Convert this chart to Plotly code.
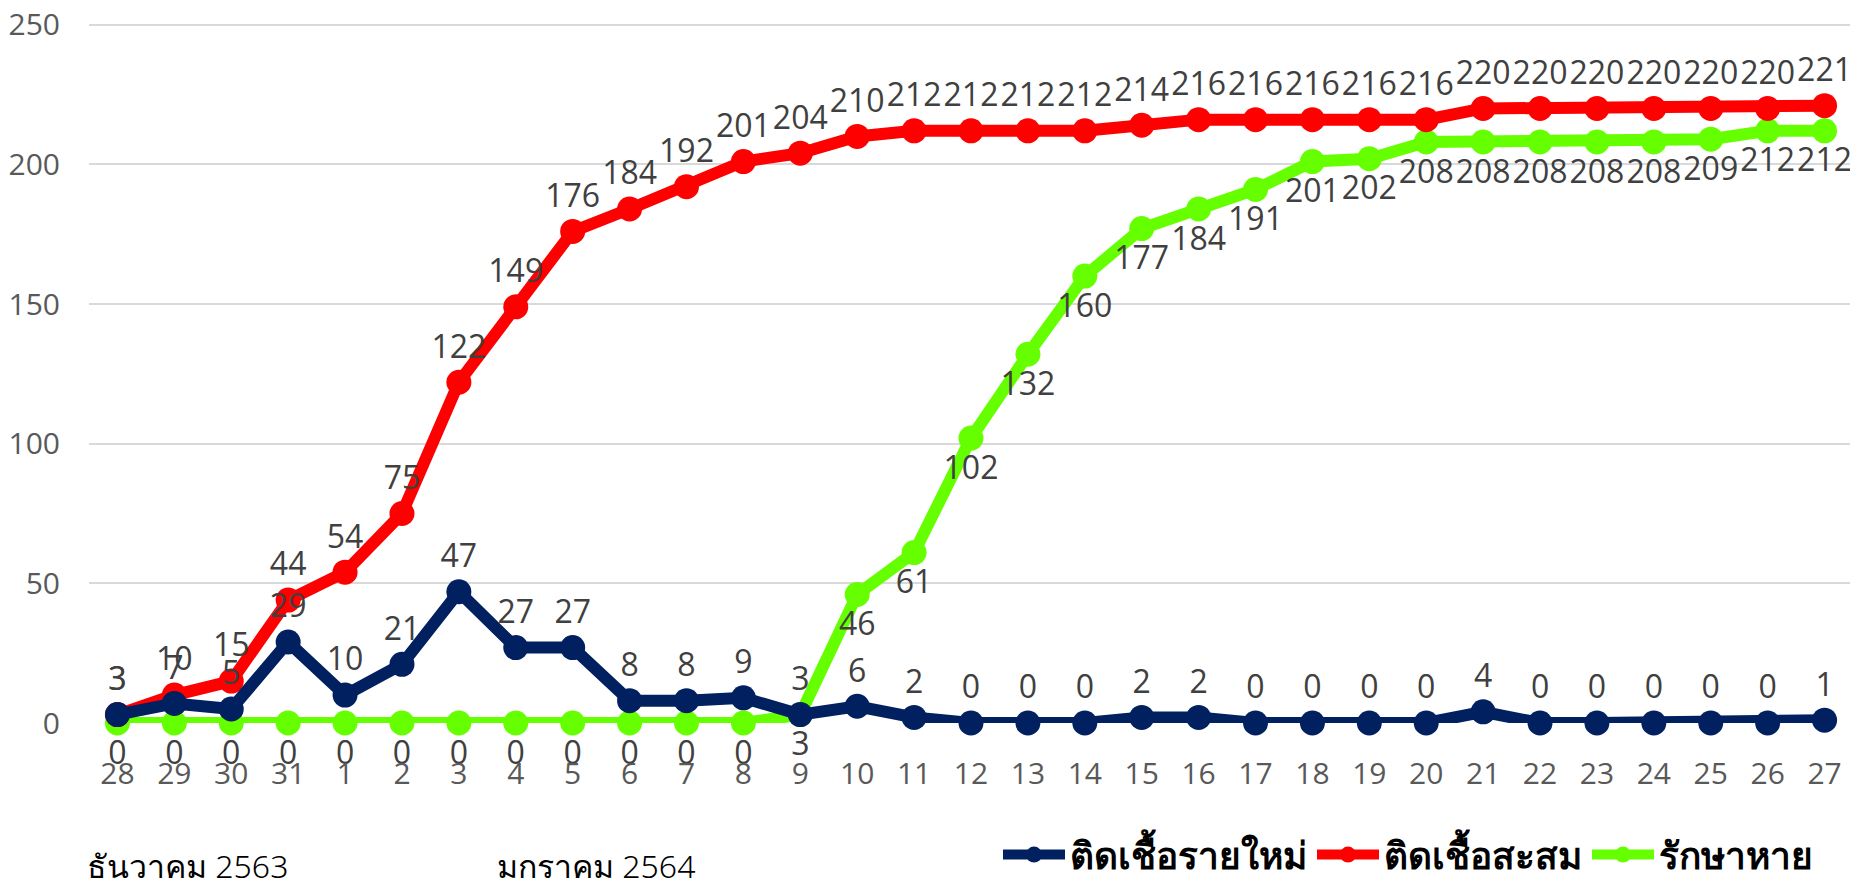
import plotly.graph_objects as go

days = ["28", "29", "30", "31", "1", "2", "3", "4", "5", "6", "7", "8", "9", "10", "11", "12",
        "13", "14", "15", "16", "17", "18", "19", "20", "21", "22", "23", "24", "25", "26", "27"]
new_cases = [3, 7, 5, 29, 10, 21, 47, 27, 27, 8, 8, 9, 3, 6, 2, 0, 0, 0, 2, 2, 0, 0, 0, 0, 4,
             0, 0, 0, 0, 0, 1]
cumulative = [3, 10, 15, 44, 54, 75, 122, 149, 176, 184, 192, 201, 204, 210, 212, 212, 212, 212,
              214, 216, 216, 216, 216, 216, 220, 220, 220, 220, 220, 220, 221]
recovered = [0, 0, 0, 0, 0, 0, 0, 0, 0, 0, 0, 0, 3, 46, 61, 102, 132, 160, 177, 184, 191, 201,
             202, 208, 208, 208, 208, 208, 209, 212, 212]

names = ["ติดเชื้อรายใหม่", "ติดเชื้อสะสม", "รักษาหาย"]
colors = ["#002060", "#FF0000", "#66FF00"]
month_labels = ["ธันวาคม 2563", "มกราคม 2564"]

# page body has an 8px margin; size the figure so it fits the 1858x886 window
OFF = 8
W, H = 1858 - OFF, 886 - OFF
L, R, T = 89 - OFF, 5, 23 - OFF
PB = 723 - OFF           # plot bottom in figure px
B = H - PB
PW, PH = W - L - R, PB - T


def px_x(ax):
    return (ax - OFF - L) / PW


def px_y(ay):
    return (PB - (ay - OFF)) / PH


x = list(range(len(days)))
fig = go.Figure()
series = [(new_cases, "top center"), (cumulative, "top center"), (recovered, "bottom center")]
for i in [2, 1, 0]:
    vals, pos = series[i]
    fig.add_trace(go.Scatter(
        x=x, y=vals, mode="lines+markers+text", name=names[i],
        line=dict(color=colors[i], width=12),
        marker=dict(color=colors[i], size=25),
        text=[str(v) for v in vals], textposition=pos,
        textfont=dict(family="Open Sans", size=32, color="#404040"),
        cliponaxis=False, legendrank=i,
    ))

fig.update_layout(
    width=W, height=H, paper_bgcolor="white", plot_bgcolor="white",
    margin=dict(l=L, r=R, t=T, b=B, autoexpand=False),
    showlegend=True,
    legend=dict(orientation="h", x=px_x(1818), xanchor="right",
                y=px_y(855), yanchor="middle", itemwidth=62,
                font=dict(family="Noto Sans, DejaVu Sans", size=37, color="#000000",
                          weight="bold"),
                traceorder="normal", bgcolor="rgba(0,0,0,0)"),
    font=dict(family="Open Sans"),
)
fig.update_xaxes(tickmode="array", tickvals=x, ticktext=days, range=[-0.5, 30.5],
                 showgrid=False, zeroline=False, showline=False, ticks="",
                 tickfont=dict(family="Open Sans", size=30, color="#595959"),
                 ticklabelstandoff=30, automargin=False)
fig.update_yaxes(range=[0, 250.6], tickvals=[0, 50, 100, 150, 200, 250],
                 showgrid=True, gridcolor="#D9D9D9", gridwidth=2,
                 zeroline=False, showline=False, ticks="",
                 tickfont=dict(family="Open Sans", size=30, color="#595959"),
                 ticklabelstandoff=28, ticklabeloverflow="allow", automargin=False)

for lbl, ax in zip(month_labels, [187, 596]):
    fig.add_annotation(x=px_x(ax), y=px_y(866),
                       xref="paper", yref="paper", text=lbl, showarrow=False,
                       font=dict(family="Noto Sans, DejaVu Sans", size=32, color="#000000",
                                 weight=300),
                       xanchor="center", yanchor="middle")

fig.write_html("out.html")
